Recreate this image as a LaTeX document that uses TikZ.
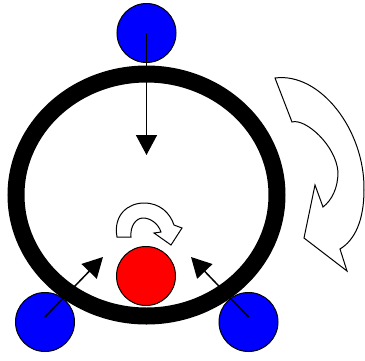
\documentclass[tikz,border=0pt]{standalone}
\usetikzlibrary{arrows.meta}
\begin{document}
\begin{tikzpicture}[x=1pt,y=-1pt,
  ball/.style={circle,draw=black,line width=1pt,minimum size=59pt,inner sep=0pt},
  bluebal/.style={ball,fill=blue},
  redbal/.style={ball,fill=red},
  push/.style={line width=1.5pt,-{Triangle[length=20pt,width=21pt]}},
  hollow/.style={draw=black,fill=white,line width=1pt,line join=miter}]
\useasboundingbox (0,0) rectangle (365,360);
% balls
\node[bluebal] (tb) at (146.5,33) {};
\node[bluebal] (lb) at (45,322) {};
\node[bluebal] (rb) at (248.5,322) {};
\node[redbal] (rd) at (146,276) {};
% ring
\draw[line width=17pt] (146.5,195) ellipse [x radius=130.5pt, y radius=121pt];
% arrow ends
\coordinate (te) at (146.5,155);
\coordinate (le) at (103,257);
\coordinate (re) at (191,257);
\draw[push] (tb.center) -- (te);
\draw[push] ([yshift=5pt]lb.center) -- (le);
\draw[push] ([yshift=5pt]rb.center) -- (re);
% small spin arrow
\path[hollow] (117,237) .. controls (113,215) and (128,203) .. (144,203)
  .. controls (160,203) and (170,213) .. (174,225) -- (182,228) -- (171,245)
  -- (154,233) -- (161,232) .. controls (158,223) and (150,218) .. (143,218)
  .. controls (136,218) and (130,226) .. (131,237) -- cycle;
% big rotation arrow
\path[hollow] (292,122) .. controls (305,118) and (336,145) .. (338,172)
  .. controls (338,188) and (332,200) .. (323,207) -- (315,185) -- (304,238)
  -- (347,271) -- (340,249) .. controls (355,240) and (364,220) .. (364,190)
  .. controls (365,130) and (320,72) .. (275,78) -- cycle;
\end{tikzpicture}
\end{document}
